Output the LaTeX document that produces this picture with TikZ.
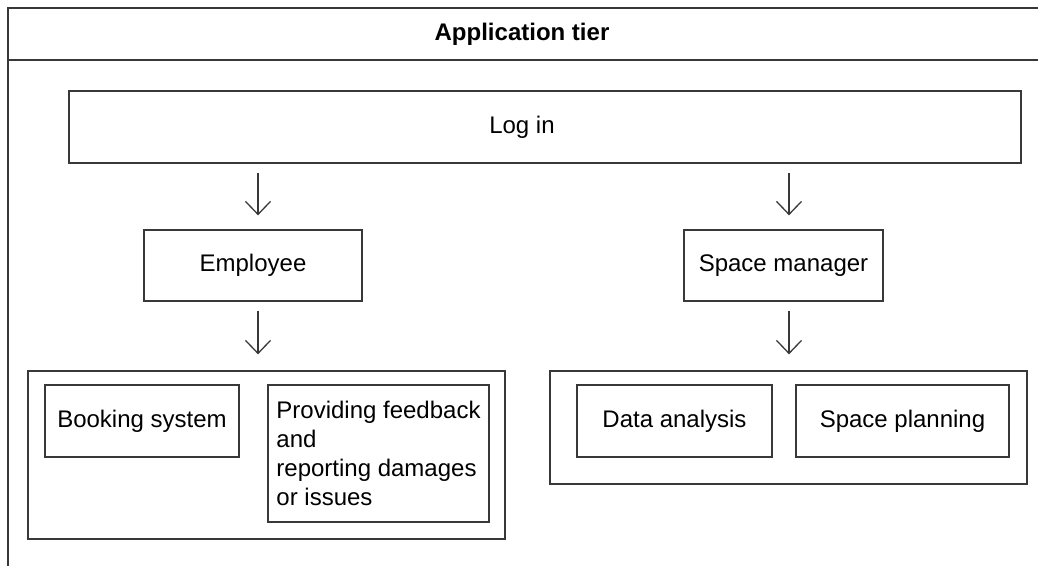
\documentclass[tikz,border=0pt]{standalone}
\usepackage{fontspec}
\setmainfont{Liberation Sans}
\usetikzlibrary{arrows.meta}
\tikzset{
  ink/.style={draw=black!78, line width=0.65pt},
  box/.style={ink, rectangle, inner sep=0pt, align=center},
  flow/.style={ink, -{Straight Barb[length=6.5pt,width=12.5pt]}},
}
\begin{document}
\begin{tikzpicture}[x=0.5pt, y=-0.5pt, font=\fontsize{12}{14.5}\selectfont]
  \useasboundingbox (0,0) rectangle (1038,566);

  % tier frame and header
  \draw[ink] (1038,8) -| (8,566);
  \draw[ink] (8,60) -- (1038,60);
  \node[font=\fontsize{12}{14.5}\selectfont\bfseries] (title) at (522,34) {Application tier};

  % login
  \node[box, minimum width=476pt, minimum height=36pt] (login) at (545,127) {};
  \node (loginlabel) at (522,127) {Log in};

  % roles
  \node[box, minimum width=109pt, minimum height=35.5pt] (emp) at (253,265.5) {Employee};
  \node[box, minimum width=99.5pt, minimum height=35.5pt] (sm) at (783.5,265.5) {Space manager};

  % employee functions
  \node[box, minimum width=238.5pt, minimum height=84pt] (grpE) at (266.5,455) {};
  \node[box, minimum width=97pt, minimum height=36pt] (book) at (142,421) {Booking system};
  \node[box, align=left, minimum width=110.5pt, minimum height=68.5pt] (feed) at (378.5,453.5)
    {Providing feedback\\and\\reporting damages\\or issues};

  % space manager functions
  \node[box, minimum width=238.5pt, minimum height=56.5pt] (grpS) at (788.5,427.5) {};
  \node[box, minimum width=97.5pt, minimum height=36pt] (data) at (674.5,421) {Data analysis};
  \node[box, minimum width=106.5pt, minimum height=36pt] (plan) at (902.5,421) {Space planning};

  % arrows
  \draw[flow, shorten <=4.5pt, shorten >=7pt]
    ([xshift=2.5pt]login.south -| emp.north) -- ([xshift=2.5pt]emp.north);
  \draw[flow, shorten <=4.5pt, shorten >=7pt]
    ([xshift=2.75pt]login.south -| sm.north) -- ([xshift=2.75pt]sm.north);
  \draw[flow, shorten <=4.5pt, shorten >=8pt]
    ([xshift=2.5pt]emp.south) -- ([xshift=2.5pt]grpE.north -| emp.south);
  \draw[flow, shorten <=4.5pt, shorten >=8pt]
    ([xshift=2.75pt]sm.south) -- ([xshift=2.75pt]grpS.north -| sm.south);
\end{tikzpicture}
\end{document}
